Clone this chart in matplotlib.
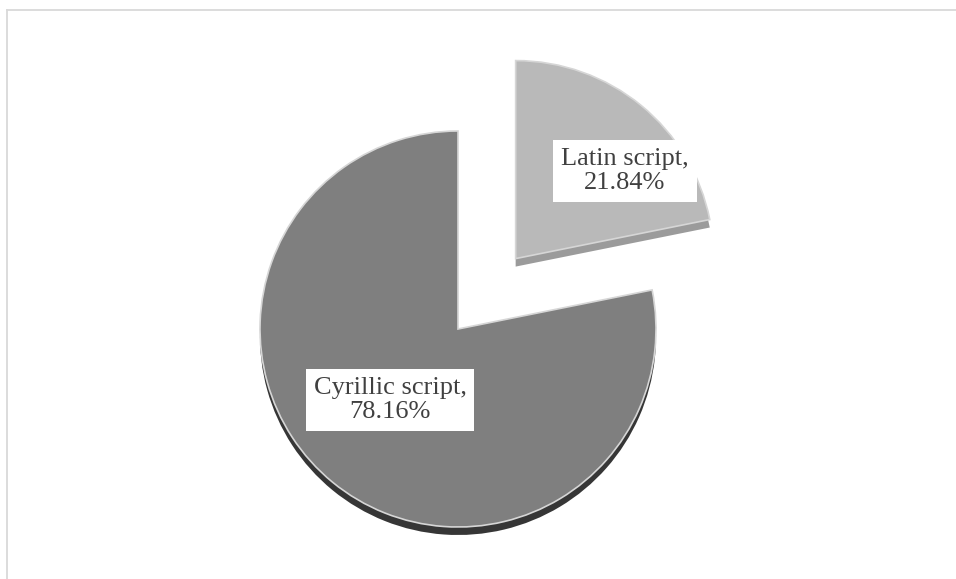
"""Script share pie (Latin vs Cyrillic), Excel-like 3D look."""

import matplotlib.pyplot as plt
from matplotlib.lines import Line2D

# data
labels = ["Latin script", "Cyrillic script"]
shares = [21.84, 78.16]

top_colors = ["#b9b9b9", "#7f7f7f"]
side_colors = ["#9b9b9b", "#363636"]

W, H = 956, 579


def main() -> None:
    plt.rcParams["font.family"] = ["Liberation Serif", "DejaVu Serif"]
    fig = plt.figure(figsize=(W / 100, H / 100), dpi=100)
    ax = fig.add_axes([0, 0, 1, 1])

    cx, cy, r = 458, H - 329, 198
    explode = [91, 0.0]  # absolute units (pixels) here
    depth = 8

    # side faces (drawn first, shifted down)
    ax.pie(
        shares,
        explode=explode,
        colors=side_colors,
        startangle=90,
        counterclock=False,
        radius=r,
        center=(cx, cy - depth),
        frame=True,
        wedgeprops={"linewidth": 0},
    )
    # top faces
    ax.pie(
        shares,
        explode=explode,
        colors=top_colors,
        startangle=90,
        counterclock=False,
        radius=r,
        center=(cx, cy),
        frame=True,
        wedgeprops={"linewidth": 1.2, "edgecolor": "#d6d6d6"},
    )
    ax.set_xlim(0, W)
    ax.set_ylim(0, H)
    ax.set_aspect("equal")
    ax.set_axis_off()

    label_pos = [(625, H - 171), (390, H - 400)]
    for lab, val, (x, y) in zip(labels, shares, label_pos):
        ax.text(
            x,
            y,
            f"{lab},\n{val:.2f}%",
            ha="center",
            va="center",
            fontsize=19,
            color="#404040",
            linespacing=1.12,
            bbox={"boxstyle": "square,pad=0.3", "facecolor": "white", "edgecolor": "none"},
            zorder=5,
        )

    # chart area border (only top and left visible)
    fig.add_artist(Line2D([6.5 / W, 1.0], [1 - 9.5 / H, 1 - 9.5 / H], color="#d9d9d9", lw=1.3, transform=fig.transFigure))
    fig.add_artist(Line2D([6.5 / W, 6.5 / W], [0.0, 1 - 9.5 / H], color="#d9d9d9", lw=1.3, transform=fig.transFigure))

    fig.savefig("out.png", dpi=100, facecolor="white")
    plt.close(fig)


if __name__ == "__main__":
    main()
